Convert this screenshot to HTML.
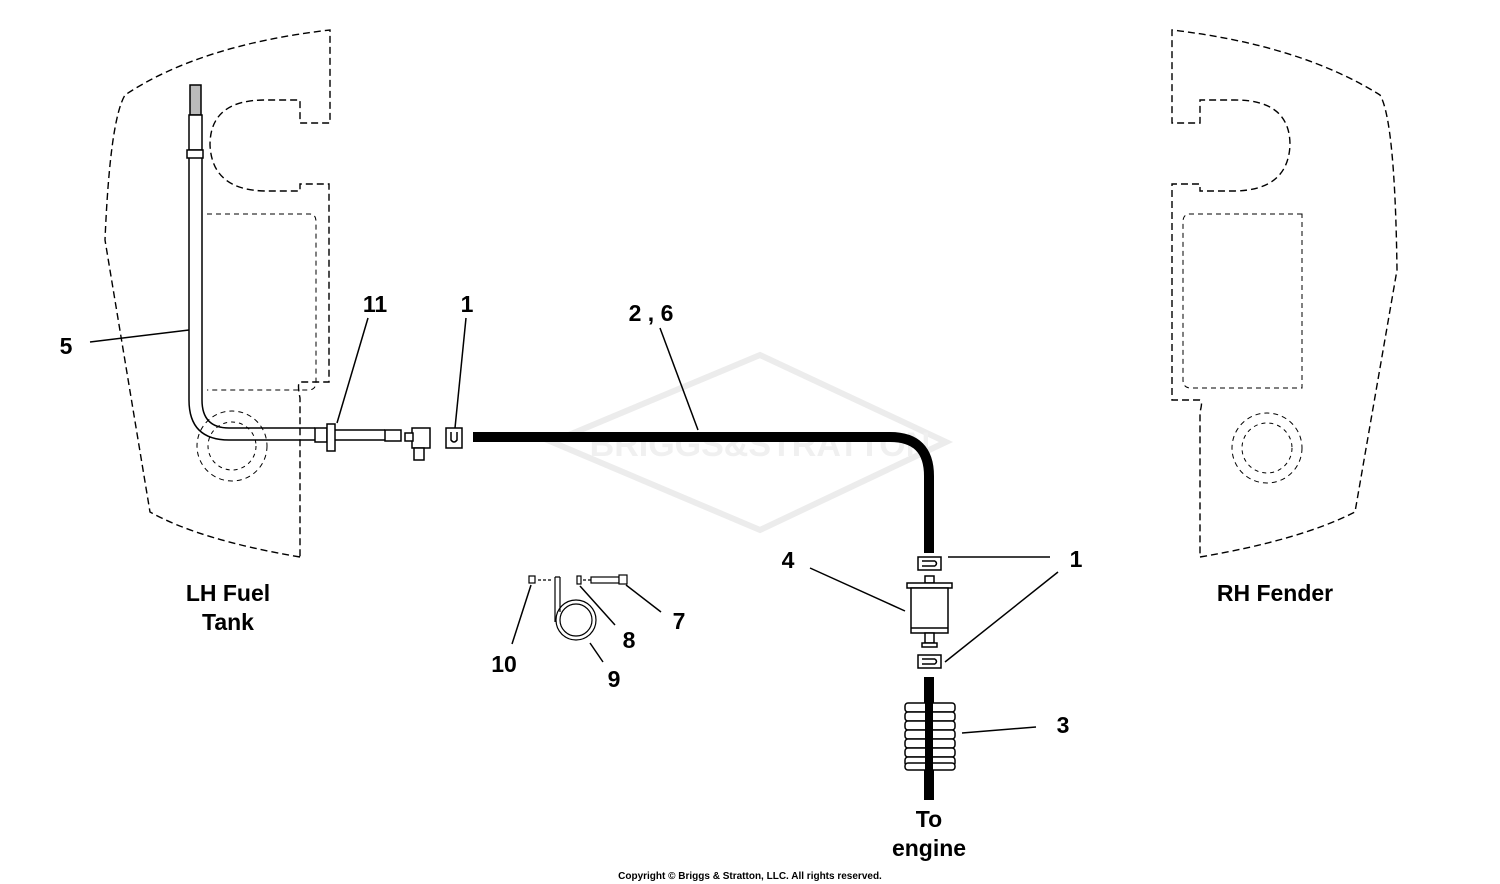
<!DOCTYPE html>
<html><head><style>
body{margin:0;background:#fff;}
svg{display:block}
text{font-family:"Liberation Sans",sans-serif;font-weight:bold;fill:#000}
</style></head><body>
<svg width="1500" height="884" viewBox="0 0 1500 884" xmlns="http://www.w3.org/2000/svg">
<g fill="none" stroke="#000" stroke-width="1.4" stroke-dasharray="7,4">
<path d="M300,557 Q200,540 150,512 L105,240 Q110,120 125,95 Q200,45 330,30 L330,123 L300,123 L300,100 L265,100 Q210,100 210,145 Q212,190 265,191 L300,191 L300,184 L329,184 L329,382 L300,382 Q297,383 300,398 Z" />
<path d="M207,214 L310,214 Q316,214 316,222 L316,382 Q316,390 308,390 L207,390" stroke-width="1" stroke-dasharray="5,4"/>
<circle cx="232" cy="446" r="35" stroke-width="1" stroke-dasharray="5,4"/>
<circle cx="232" cy="446" r="24" stroke-width="1" stroke-dasharray="4,4"/>
<path d="M1200,557 Q1300,540 1355,512 L1397,270 Q1395,120 1380,95 Q1300,45 1172,30 L1172,123 L1200,123 L1200,100 L1235,100 Q1290,100 1290,145 Q1288,190 1235,191 L1200,191 L1200,184 L1172,184 L1172,400 L1200,400 Q1203,401 1200,412 Z" />
<path d="M1302,214 L1190,214 Q1183,214 1183,222 L1183,380 Q1183,388 1191,388 L1302,388 Z" stroke-width="1" stroke-dasharray="5,4"/>
<circle cx="1267" cy="448" r="35" stroke-width="1" stroke-dasharray="5,4"/>
<circle cx="1267" cy="448" r="25" stroke-width="1" stroke-dasharray="4,4"/>
</g>
<g fill="none" stroke="#ececec" stroke-width="6">
<path d="M552,442 L760,355 L946,442 L760,530 Z"/>
</g>
<text x="760" y="456" font-size="34" style="fill:#f0f0f0" text-anchor="middle">BRIGGS&amp;STRATTON</text>
<g fill="none" stroke="#000" stroke-width="1.5">
<rect x="190" y="85" width="11" height="30" fill="#bbb"/>
<rect x="189" y="115" width="13" height="35" fill="#fff"/>
<rect x="187" y="150" width="16" height="8" fill="#fff"/>
<path d="M189,158 L189,400 Q189,440 229,440 L315,440"/>
<path d="M202,158 L202,400 Q202,428 229,428 L315,428"/>
<rect x="315" y="428" width="12" height="14" fill="#fff"/>
<rect x="327" y="424" width="8" height="27" fill="#fff"/>
<path d="M335,430 L385,430 M335,440 L385,440"/>
<rect x="385" y="430" width="16" height="11" fill="#fff"/>
<rect x="412" y="428" width="18" height="20" fill="#fff"/>
<rect x="405" y="433" width="8" height="8" fill="#fff"/>
<rect x="414" y="448" width="10" height="12" fill="#fff"/>
<rect x="446" y="428" width="16" height="20" fill="#fff"/>
<path d="M451,432 L451,440 Q454,444 457,440 L457,432"/>
</g>
<path d="M473,437 L890,437 Q929,437 929,476 L929,553" fill="none" stroke="#000" stroke-width="10"/>
<g fill="#fff" stroke="#000" stroke-width="1.5">
<rect x="918" y="557" width="23" height="13"/>
<path d="M922,561 L935,561 M922,566 L935,566 M935,561 Q938,563.5 935,566" fill="none"/>
<rect x="925" y="576" width="9" height="7"/>
<rect x="907" y="583" width="45" height="5"/>
<rect x="911" y="588" width="37" height="45"/>
<line x1="911" y1="628" x2="948" y2="628"/>
<rect x="925" y="633" width="9" height="10"/>
<rect x="922" y="643" width="15" height="4"/>
<rect x="918" y="655" width="23" height="13"/>
<path d="M922,659 L935,659 M922,664 L935,664 M935,659 Q938,661.5 935,664" fill="none"/>
</g>
<path d="M929,677 L929,703 M929,770 L929,800" stroke="#000" stroke-width="10"/>
<g fill="#fff" stroke="#000" stroke-width="1.5">
<rect x="905" y="703" width="50" height="9" rx="3"/>
<rect x="905" y="712" width="50" height="9" rx="3"/>
<rect x="905" y="721" width="50" height="9" rx="3"/>
<rect x="905" y="730" width="50" height="9" rx="3"/>
<rect x="905" y="739" width="50" height="9" rx="3"/>
<rect x="905" y="748" width="50" height="9" rx="3"/>
<rect x="905" y="757" width="50" height="9" rx="3"/>
<rect x="905" y="763" width="50" height="7" rx="3"/>
</g>
<rect x="925" y="703" width="8" height="67" fill="#000"/>
<g fill="none" stroke="#000" stroke-width="1.2">
<rect x="529" y="576" width="6" height="7" fill="#fff"/>
<path d="M538,580 L552,580 M583,580 L591,580" stroke-dasharray="3,2"/>
<circle cx="576" cy="620" r="20"/>
<circle cx="576" cy="620" r="16"/>
<path d="M555,577 L555,622 M560,577 L560,612 M555,577 L560,577"/>
<rect x="577" y="576" width="4" height="8" fill="#fff"/>
<rect x="591" y="577" width="28" height="6" fill="#fff"/>
<rect x="619" y="575" width="8" height="9" fill="#fff"/>
</g>
<g stroke="#000" stroke-width="1.5" fill="none">
<path d="M90,342 L189,330"/>
<path d="M368,318 L337,423"/>
<path d="M466,318 L455,428"/>
<path d="M660,328 L698,430"/>
<path d="M948,557 L1050,557"/>
<path d="M810,568 L905,611"/>
<path d="M945,662 L1058,572"/>
<path d="M962,733 L1036,727"/>
<path d="M626,585 L661,612"/>
<path d="M580,586 L615,625"/>
<path d="M590,643 L603,662"/>
<path d="M531,585 L512,644"/>
</g>
<g font-size="23" text-anchor="middle">
<text x="66" y="354">5</text>
<text x="375" y="312">11</text>
<text x="467" y="312">1</text>
<text x="651" y="321">2 , 6</text>
<text x="788" y="568">4</text>
<text x="1076" y="567">1</text>
<text x="1063" y="733">3</text>
<text x="679" y="629">7</text>
<text x="629" y="648">8</text>
<text x="614" y="687">9</text>
<text x="504" y="672">10</text>
<text x="228" y="601">LH Fuel</text>
<text x="228" y="630">Tank</text>
<text x="1275" y="601">RH Fender</text>
<text x="929" y="827">To</text>
<text x="929" y="856">engine</text>
<text x="750" y="879" font-size="10">Copyright © Briggs &amp; Stratton, LLC. All rights reserved.</text>
</g>
</svg>
</body></html>
